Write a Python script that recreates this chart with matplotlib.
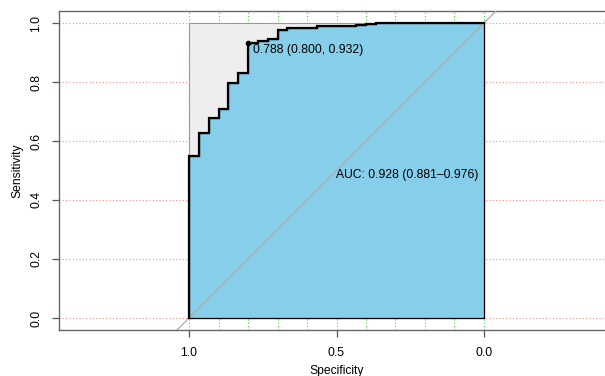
import matplotlib.pyplot as plt

plt.rcParams['font.family'] = ['Liberation Sans', 'DejaVu Sans']
plt.rcParams['font.size'] = 8.7

# ROC step corners: specificity where each step happens, sensitivity level reached
spec_breaks = [1.0, 0.967, 0.933, 0.900, 0.867, 0.833, 0.800, 0.767,
               0.733, 0.700, 0.667, 0.567, 0.433, 0.400, 0.367]
sens_levels = [0.550, 0.628, 0.678, 0.710, 0.797, 0.832, 0.932, 0.938,
               0.946, 0.975, 0.983, 0.989, 0.993, 0.997, 1.000]

best_thres = 0.788
best_spec = 0.800
best_sens = 0.932
auc_val = 0.928
auc_lo = 0.881
auc_hi = 0.976

x_ticks = [1.0, 0.5, 0.0]
y_ticks = [0.0, 0.2, 0.4, 0.6, 0.8, 1.0]
grid_x = [0.0, 0.1, 0.2, 0.3, 0.4, 0.5, 0.6, 0.7, 0.8, 0.9, 1.0]

# build the stepped curve
xs = [1.0]
ys = [0.0]
for i in range(len(spec_breaks)):
    xs.append(spec_breaks[i])
    ys.append(sens_levels[i])
    nxt = spec_breaks[i + 1] if i + 1 < len(spec_breaks) else 0.0
    xs.append(nxt)
    ys.append(sens_levels[i])

fig = plt.figure(figsize=(6.05, 3.76), dpi=100)
ax = fig.add_axes([59 / 605, 46 / 376, 555 / 605, 319 / 376])
ax.set_xlim(1.4407, -0.4407)
ax.set_ylim(-0.0407, 1.0407)

# grid
for gy in y_ticks:
    ax.axhline(gy, color='#ff8a8a', lw=0.8, ls=(0, (1, 2)), zorder=1)
for gx in grid_x:
    ax.axvline(gx, color='#33dd33', lw=0.8, ls=(0, (1, 2)), zorder=1)

# max auc polygon (grey) and auc polygon (blue)
ax.fill([1, 1, 0, 0], [0, 1, 1, 0], facecolor='#eeeeee', edgecolor='#999999',
        lw=0.8, zorder=2)
ax.fill(xs + [0.0, 1.0], ys + [0.0, 0.0], facecolor='skyblue',
        edgecolor='black', lw=0.9, zorder=3)

# identity line
ax.axline((1, 0), (0, 1), color='darkgrey', lw=0.9, zorder=4)

# roc curve
ax.plot(xs, ys, color='black', lw=1.6, zorder=5, solid_joinstyle='miter')

# best threshold
ax.plot(best_spec, best_sens, 'o', color='black', ms=3, zorder=6)
ax.text(best_spec - 0.017, best_sens - 0.025,
        '%.3f (%.3f, %.3f)' % (best_thres, best_spec, best_sens),
        ha='left', va='center', zorder=7)

ax.text(0.502, 0.485, 'AUC: %.3f (%.3f\u2013%.3f)' % (auc_val, auc_lo, auc_hi),
        ha='left', va='center', zorder=7)

# axes styling
ax.spines['right'].set_visible(False)
for s in ['left', 'top', 'bottom']:
    ax.spines[s].set_color('#666666')
    ax.spines[s].set_linewidth(1.0)

ax.set_xticks(x_ticks)
ax.set_xticklabels(['1.0', '0.5', '0.0'])
ax.set_yticks(y_ticks)
ax.set_yticklabels(['%.1f' % v for v in y_ticks], rotation=90, va='center')
ax.tick_params(axis='both', length=5, width=0.9, color='#555555', pad=7)

fig.text(336.5 / 605, 1 - 371 / 376, 'Specificity', ha='center', va='center')
fig.text(17 / 605, 1 - 170.5 / 376, 'Sensitivity', ha='center', va='center',
         rotation=90)

fig.savefig('out.png', dpi=100)
